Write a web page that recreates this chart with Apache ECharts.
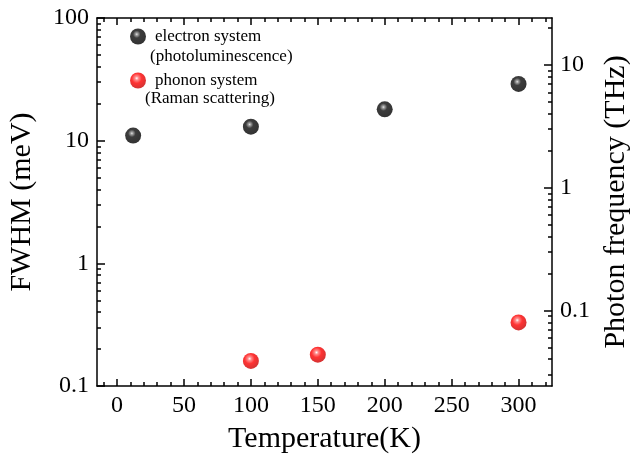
<!DOCTYPE html>
<html>
<head>
<meta charset="utf-8">
<script src="https://cdn.jsdelivr.net/npm/echarts@6/dist/echarts.min.js"></script>
<style>
  html, body { margin: 0; padding: 0; background: #fff; }
  #chart { width: 630px; height: 457px; }
</style>
</head>
<body>
<div id="chart"></div>
<script>
// Linewidth data (meV) against temperature (K)
const electronTemperature = [12, 100, 200, 300];
const electronFwhm = [11, 13, 18, 29];
const phononTemperature = [100, 150, 300];
const phononFwhm = [0.16, 0.18, 0.33];

// Axis ticks
const temperatureTicks = [0, 50, 100, 150, 200, 250, 300];
const temperatureMinorTicks = [-10, 10, 20, 30, 40, 60, 70, 80, 90, 110, 120, 130, 140,
  160, 170, 180, 190, 210, 220, 230, 240, 260, 270, 280, 290, 310, 320];
const fwhmTicks = [0.1, 1, 10, 100];
const fwhmMinorTicks = [0.2, 0.3, 0.4, 0.5, 0.6, 0.7, 0.8, 0.9, 2, 3, 4, 5, 6, 7, 8, 9,
  20, 30, 40, 50, 60, 70, 80, 90];
const thzTicks = [0.1, 1, 10];
const thzMinorTicks = [0.03, 0.04, 0.05, 0.06, 0.07, 0.08, 0.09, 0.2, 0.3, 0.4, 0.5, 0.6,
  0.7, 0.8, 0.9, 2, 3, 4, 5, 6, 7, 8, 9, 20];

const MEV_TO_THZ = 0.241799;
const FWHM_MIN = 0.1, FWHM_MAX = 100;
const TEMP_MIN = -15, TEMP_MAX = 325;

const SERIF = '"Liberation Serif", "Times New Roman", serif';

function sphere(stops) {
  return {
    type: 'radial', x: 0.42, y: 0.36, r: 0.62,
    colorStops: stops.map(s => ({ offset: s[0], color: s[1] }))
  };
}
const blackBall = sphere([[0, '#e0e0e0'], [0.12, '#8a8a8a'], [0.38, '#0c0c0c'], [1, '#000']]);
const redBall = sphere([[0, '#ffffff'], [0.18, '#ff7070'], [0.5, '#ff0000'], [1, '#cc0000']]);

const lineStyle = { color: '#000', width: 1.5 };

function xAxis(position, ticks, len, labels) {
  return {
    type: 'value', position: position, min: TEMP_MIN, max: TEMP_MAX,
    axisLine: { show: labels !== null, lineStyle: lineStyle, onZero: false },
    axisTick: { show: true, inside: true, length: len, customValues: ticks, lineStyle: lineStyle },
    axisLabel: labels ? {
      show: true, customValues: labels, margin: 8,
      color: '#000', fontFamily: SERIF, fontSize: 24
    } : { show: false },
    splitLine: { show: false },
    name: (position === 'bottom' && labels) ? 'Temperature(K)' : '',
    nameLocation: 'middle', nameGap: 38,
    nameTextStyle: { color: '#000', fontFamily: SERIF, fontSize: 30 }
  };
}

function yAxis(position, min, max, ticks, len, labels, name, gap) {
  return {
    type: 'log', logBase: 10, position: position, min: min, max: max,
    axisLine: { show: labels !== null, lineStyle: lineStyle, onZero: false },
    axisTick: { show: true, inside: true, length: len, customValues: ticks, lineStyle: lineStyle },
    axisLabel: labels ? {
      show: true, customValues: labels, margin: 8,
      color: '#000', fontFamily: SERIF, fontSize: 24,
      formatter: v => String(+v.toPrecision(3))
    } : { show: false },
    splitLine: { show: false },
    name: name || '', nameLocation: 'middle', nameGap: gap || 0,
    nameTextStyle: { color: '#000', fontFamily: SERIF, fontSize: 30 }
  };
}

const chart = echarts.init(document.getElementById('chart'), null, { renderer: 'canvas' });

chart.setOption({
  backgroundColor: '#fff',
  animation: false,
  grid: { left: 97, top: 18, right: 78, bottom: 71, containLabel: false, outerBoundsMode: 'none' },
  legend: {
    orient: 'vertical', left: 125, top: 23, itemGap: 27,
    itemWidth: 16, itemHeight: 16, icon: 'circle',
    textStyle: { color: '#000', fontFamily: SERIF, fontSize: 17, lineHeight: 16, padding: [0, 0, 0, 4] },
    data: ['electron system', 'phonon system']
  },
  graphic: [
    { type: 'text', left: 150, top: 48, style: { text: '(photoluminescence)', fill: '#000', font: '17px ' + SERIF } },
    { type: 'text', left: 145, top: 90, style: { text: '(Raman scattering)', fill: '#000', font: '17px ' + SERIF } }
  ],
  xAxis: [
    xAxis('bottom', temperatureTicks, 7, temperatureTicks),
    xAxis('bottom', temperatureMinorTicks, 4, null),
    xAxis('top', temperatureTicks, 7, []),
    xAxis('top', temperatureMinorTicks, 4, null)
  ],
  yAxis: [
    yAxis('left', FWHM_MIN, FWHM_MAX, fwhmTicks, 8, fwhmTicks, 'FWHM (meV)', 60),
    yAxis('left', FWHM_MIN, FWHM_MAX, fwhmMinorTicks, 4, null),
    yAxis('right', FWHM_MIN * MEV_TO_THZ, FWHM_MAX * MEV_TO_THZ, thzTicks, 8, thzTicks, 'Photon frequency (THz)', 38),
    yAxis('right', FWHM_MIN * MEV_TO_THZ, FWHM_MAX * MEV_TO_THZ, thzMinorTicks, 4, null)
  ],
  series: [
    {
      name: 'electron system', type: 'scatter', xAxisIndex: 0, yAxisIndex: 0,
      symbol: 'circle', symbolSize: 16,
      itemStyle: { color: blackBall },
      data: electronTemperature.map((t, i) => [t, electronFwhm[i]])
    },
    {
      name: 'phonon system', type: 'scatter', xAxisIndex: 0, yAxisIndex: 0,
      symbol: 'circle', symbolSize: 16,
      itemStyle: { color: redBall },
      data: phononTemperature.map((t, i) => [t, phononFwhm[i]])
    }
  ]
});
</script>
</body>
</html>
